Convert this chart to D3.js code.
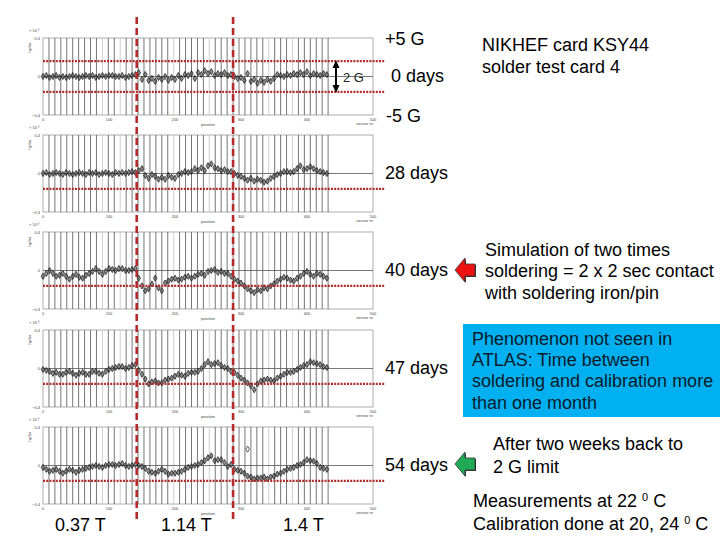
<!DOCTYPE html>
<html>
<head>
<meta charset="utf-8">
<script src="https://cdn.jsdelivr.net/npm/d3@7"></script>
<style>
  body { margin: 0; background: #fff; }
  svg { display: block; font-family: "Liberation Sans", Arial, sans-serif; }
</style>
</head>
<body>
<svg id="chart" width="720" height="540"></svg>
<script>
// sensor position along the card (same for every panel)
const xValues = [0,5,10,15,20,25,30,35,40,45,50,55,60,65,70,75,80,85,90,95,100,105,110,115,120,125,130,135,140,
  145,150,155,160,165,170,175,180,185,190,195,200,205,210,215,220,225,230,235,240,245,250,255,260,265,270,275,280,285,
  290,295,300,305,310,315,320,325,330,335,340,345,350,355,360,365,370,375,380,385,390,395,400,405,410,415,420,425,430];

const days0 = [0.00,0.01,-0.01,0.00,0.01,-0.01,0.00,-0.01,0.00,0.01,0.00,-0.01,0.00,0.01,0.00,0.01,-0.01,0.00,0.01,0.00,0.01,0.01,0.00,0.00,0.01,-0.01,0.00,0.01,0.02,
  0.04,-0.03,0.02,-0.04,-0.02,-0.05,-0.01,-0.03,0.00,-0.04,-0.01,-0.03,0.01,-0.02,0.02,0.01,0.03,-0.02,0.04,0.02,0.06,0.03,0.05,0.01,0.03,0.02,0.04,0.01,0.02,
  0.00,-0.02,-0.01,-0.04,0.03,-0.05,-0.03,-0.07,-0.04,-0.06,-0.03,-0.05,-0.02,0.02,0.01,0.00,0.02,0.01,0.03,0.02,0.04,0.02,0.05,0.01,0.03,0.02,0.01,0.03,0.02];
const days28 = [0.00,0.01,-0.01,0.00,0.01,0.00,-0.01,0.01,0.00,-0.01,0.00,0.01,0.00,-0.01,0.01,0.00,0.01,-0.01,0.00,0.01,0.00,-0.01,0.01,0.00,0.01,0.00,0.01,0.02,0.01,
  0.03,0.05,-0.02,-0.05,-0.01,-0.03,-0.06,-0.04,-0.06,-0.02,-0.04,-0.05,-0.01,0.00,0.02,0.01,0.02,0.05,0.03,0.06,0.03,0.08,0.10,0.06,0.05,0.03,0.04,0.02,0.02,
  0.00,-0.02,-0.03,-0.05,-0.07,-0.05,-0.08,-0.06,-0.07,-0.09,-0.08,-0.05,-0.03,-0.01,0.00,0.02,0.02,0.01,0.02,0.05,0.08,0.04,0.05,0.07,0.05,0.03,0.02,0.01,0.00];
const days40 = [-0.06,-0.03,0.00,-0.03,-0.06,-0.05,-0.03,-0.06,-0.09,-0.06,-0.04,-0.07,-0.08,-0.05,-0.03,-0.01,0.02,-0.01,-0.04,-0.01,0.02,0.01,0.00,0.02,0.02,0.00,0.00,0.01,0.02,
  -0.08,-0.16,-0.21,-0.19,-0.14,-0.08,-0.18,-0.21,-0.13,-0.11,-0.09,-0.08,-0.10,-0.09,-0.07,-0.06,-0.08,-0.06,-0.04,-0.03,-0.05,-0.01,0.00,0.01,-0.02,-0.01,-0.03,-0.03,-0.06,
  -0.09,-0.11,-0.13,-0.16,-0.19,-0.21,-0.23,-0.20,-0.21,-0.18,-0.19,-0.16,-0.14,-0.11,-0.09,-0.07,-0.08,-0.10,-0.11,-0.08,-0.06,-0.03,-0.01,-0.04,-0.06,-0.03,-0.04,-0.06,-0.08];
const days47 = [-0.01,-0.02,-0.03,-0.05,-0.04,-0.06,-0.06,-0.04,-0.03,-0.05,-0.07,-0.05,-0.04,-0.06,-0.06,-0.03,-0.03,-0.05,-0.06,-0.03,-0.01,0.00,0.01,0.02,0.02,0.00,0.01,0.03,0.04,
  -0.02,-0.06,-0.11,-0.16,-0.14,-0.13,-0.15,-0.15,-0.12,-0.11,-0.10,-0.08,-0.06,-0.07,-0.08,-0.05,-0.04,-0.04,-0.03,0.00,0.04,0.07,0.04,0.05,0.06,0.03,0.01,0.00,-0.03,
  -0.04,-0.07,-0.10,-0.12,-0.15,-0.18,-0.22,-0.16,-0.13,-0.12,-0.11,-0.12,-0.13,-0.10,-0.08,-0.06,-0.04,-0.04,-0.03,-0.01,0.01,0.03,0.04,0.07,0.06,0.05,0.04,0.02,0.01];
const days54 = [-0.02,-0.04,-0.06,-0.05,-0.04,-0.06,-0.08,-0.06,-0.04,-0.05,-0.07,-0.05,-0.04,-0.03,-0.02,-0.01,0.00,-0.01,-0.02,0.00,0.01,0.01,0.00,0.01,0.02,0.00,-0.01,0.00,0.01,
  0.00,-0.01,-0.03,-0.06,-0.07,-0.08,-0.06,-0.04,-0.06,-0.09,-0.08,-0.08,-0.07,-0.06,-0.04,-0.02,-0.01,0.00,0.01,0.03,0.05,0.08,0.10,0.05,0.06,0.06,0.03,-0.01,0.01,
  -0.04,-0.05,-0.06,-0.08,-0.11,-0.12,-0.14,-0.13,-0.13,-0.12,-0.14,-0.12,-0.11,-0.09,-0.08,-0.06,-0.04,-0.03,-0.02,0.00,0.01,0.03,0.06,0.05,0.045,0.02,-0.02,-0.03,-0.04];

const series = [days0, days28, days40, days47, days54];
const panelLabels = ["0 days", "28 days", "40 days", "47 days", "54 days"];
// stray point in the last panel
const outlierX = [310];
const outlierY = [0.17];

// +/- 2 G limits (axis +/-0.4 = +/-5 G)
const limitLines = [[0.16, -0.16], [-0.16], [-0.16], [-0.16], [-0.16]];
// magnet field boundaries
const fieldEdges = [142, 288];
const fieldLabels = ["0.37 T", "1.14 T", "1.4 T"];

const channelLines = [9,18,27,36,45,54,63,72,81,90,99,108,117,126,135,144,153,162,171,180,189,198,207,216,
  225,234,243,252,261,270,279,288,297,306,315,324,333,342,351,360,369,378,387,396,405,414,423,432];
const lightChannels = [90, 117, 198, 252, 342, 378];

const xTicks = [0, 100, 200, 300, 400, 500];
const yTicks = [-0.4, 0, 0.4];

const svg = d3.select('#chart');
const MARGINS = { left: 43, plotWidth: 330, plotHeight: 77 };
const panelTops = [38, 135, 232, 330, 427];
const labelX = [391, 385, 385, 385, 385];
const FONT = 18;

const x = d3.scaleLinear().domain([0, 500]).range([MARGINS.left, MARGINS.left + MARGINS.plotWidth]);

series.forEach((vals, i) => {
  const top = panelTops[i];
  const y = d3.scaleLinear().domain([-0.4, 0.4]).range([top + MARGINS.plotHeight, top]);
  const g = svg.append('g').attr('class', 'panel');

  g.append('rect')
    .attr('x', x(0)).attr('y', y(0.4))
    .attr('width', x(500) - x(0)).attr('height', y(-0.4) - y(0.4))
    .attr('fill', 'none').attr('stroke', '#999').attr('stroke-width', 0.8);

  g.selectAll('.chan')
    .data(channelLines)
    .join('line')
    .attr('class', 'chan')
    .attr('x1', d => x(d)).attr('x2', d => x(d))
    .attr('y1', y(0.4)).attr('y2', y(-0.4))
    .attr('stroke', d => lightChannels.includes(d) ? '#c8c8c8' : '#666')
    .attr('stroke-width', 0.9);

  g.append('line')
    .attr('x1', x(0)).attr('x2', x(500))
    .attr('y1', y(0)).attr('y2', y(0))
    .attr('stroke', '#555').attr('stroke-width', 0.8);

  // tiny axis texts
  const small = g.append('g').attr('font-size', 4).attr('fill', '#444');
  small.selectAll('.yt')
    .data(yTicks)
    .join('text')
    .attr('x', x(0) - 3).attr('y', d => y(d) + 1.5)
    .attr('text-anchor', 'end')
    .text(d => d === 0 ? '0' : d3.format('.1f')(d));
  small.selectAll('.xt')
    .data(xTicks)
    .join('text')
    .attr('x', d => x(d)).attr('y', y(-0.4) + 6)
    .attr('text-anchor', 'middle')
    .text(d => d);
  small.append('text').attr('x', x(0) - 14).attr('y', y(0.4) - 6).text('× 10⁻³');
  small.append('text').attr('x', x(250)).attr('y', y(-0.4) + 11).attr('text-anchor', 'middle').text('position');
  small.append('text').attr('x', x(500)).attr('y', y(-0.4) + 10).attr('text-anchor', 'end').text('sensor nr');
  small.append('text')
    .attr('transform', `translate(${x(0) - 12},${y(0.3)}) rotate(-90)`)
    .attr('text-anchor', 'middle').text('hy/hx');

  g.selectAll('.pt')
    .data(vals.map((v, j) => [xValues[j], v]))
    .join('path')
    .attr('class', 'pt')
    .attr('transform', d => `translate(${x(d[0])},${y(d[1])})`)
    .attr('d', d3.symbol(d3.symbolDiamond, 11))
    .attr('fill', '#444').attr('fill-opacity', 0.6)
    .attr('stroke', '#111').attr('stroke-width', 0.7);

  if (i === 4) {
    g.selectAll('.out')
      .data(outlierX.map((v, j) => [v, outlierY[j]]))
      .join('path')
      .attr('transform', d => `translate(${x(d[0])},${y(d[1])})`)
      .attr('d', d3.symbol(d3.symbolDiamond, 11))
      .attr('fill', 'none').attr('stroke', '#333').attr('stroke-width', 0.8);
  }

  g.selectAll('.limit')
    .data(limitLines[i])
    .join('line')
    .attr('x1', x(0)).attr('x2', x(518))
    .attr('y1', d => y(d)).attr('y2', d => y(d))
    .attr('stroke', '#b22a2a').attr('stroke-width', 2.2)
    .attr('stroke-dasharray', '2 1.2');

  svg.append('text')
    .attr('x', labelX[i]).attr('y', y(0) + 5)
    .attr('font-size', FONT).attr('fill', '#000')
    .text(panelLabels[i]);
});

// field boundaries over all panels
svg.selectAll('.edge')
  .data(fieldEdges)
  .join('line')
  .attr('x1', d => x(d)).attr('x2', d => x(d))
  .attr('y1', 17).attr('y2', 522)
  .attr('stroke', '#b52b2b').attr('stroke-width', 2.6)
  .attr('stroke-dasharray', '7 4');

const fieldTextX = [55, 161, 283];
svg.selectAll('.field')
  .data(fieldLabels)
  .join('text')
  .attr('x', (d, i) => fieldTextX[i]).attr('y', 531)
  .attr('font-size', FONT)
  .text(d => d);

// 2 G arrow in first panel
const y0 = d3.scaleLinear().domain([-0.4, 0.4]).range([panelTops[0] + MARGINS.plotHeight, panelTops[0]]);
const ax = 336;
svg.append('line')
  .attr('x1', ax).attr('x2', ax).attr('y1', y0(0.16) + 5).attr('y2', y0(-0.16) - 5)
  .attr('stroke', '#000').attr('stroke-width', 2);
svg.append('path')
  .attr('d', `M${ax},${y0(0.16) - 1} l-3.5,8 l7,0 z M${ax},${y0(-0.16) + 1} l-3.5,-8 l7,0 z`)
  .attr('fill', '#000');
svg.append('text').attr('x', 343).attr('y', 82).attr('font-size', 13).attr('fill', '#222').text('2 G');

svg.append('text').attr('x', 385).attr('y', 45).attr('font-size', FONT).text('+5 G');
svg.append('text').attr('x', 386).attr('y', 122).attr('font-size', FONT).text('-5 G');

function block(lines, x0, y0, dy) {
  const t = svg.append('text').attr('font-size', FONT).attr('fill', '#000');
  lines.forEach((s, i) => t.append('tspan').attr('x', x0).attr('y', y0 + i * dy).text(s));
  return t;
}

block(['NIKHEF card KSY44', 'solder test card 4'], 482, 51, 21.5);
block(['Simulation of two times', 'soldering = 2 x 2 sec contact', 'with soldering iron/pin'], 485, 256, 21.3);

svg.append('rect').attr('x', 463).attr('y', 324).attr('width', 257).attr('height', 93).attr('fill', '#00b0f0');
block(['Phenomenon not seen in', 'ATLAS: Time between', 'soldering and calibration more', 'than one month'], 472, 345, 21.2)
  .attr('fill', '#0d1b2a');

block(['After two weeks back to', '2 G limit'], 493, 450, 22.5);

const m1 = svg.append('text').attr('font-size', FONT).attr('x', 473).attr('y', 507);
m1.append('tspan').text('Measurements at 22 ');
m1.append('tspan').attr('font-size', 11).attr('dy', -6).text('0');
m1.append('tspan').attr('dy', 6).text(' C');
const m2 = svg.append('text').attr('font-size', FONT).attr('x', 473).attr('y', 530);
m2.append('tspan').text('Calibration done at 20, 24 ');
m2.append('tspan').attr('font-size', 11).attr('dy', -6).text('0');
m2.append('tspan').attr('dy', 6).text(' C');

// block arrows pointing left at the panels
function blockArrow(cx, cy, fill) {
  const p = `M${cx - 10},${cy} L${cx},${cy - 12} L${cx},${cy - 6} L${cx + 10},${cy - 6} L${cx + 10},${cy + 6} L${cx},${cy + 6} L${cx},${cy + 12} Z`;
  svg.append('path').attr('d', p).attr('transform', 'translate(1,1)').attr('fill', '#333');
  svg.append('path').attr('d', p).attr('fill', fill).attr('stroke', '#333').attr('stroke-width', 0.8);
}
blockArrow(465, 270, '#ee1111');
blockArrow(465, 464, '#1faa55');
</script>
</body>
</html>
